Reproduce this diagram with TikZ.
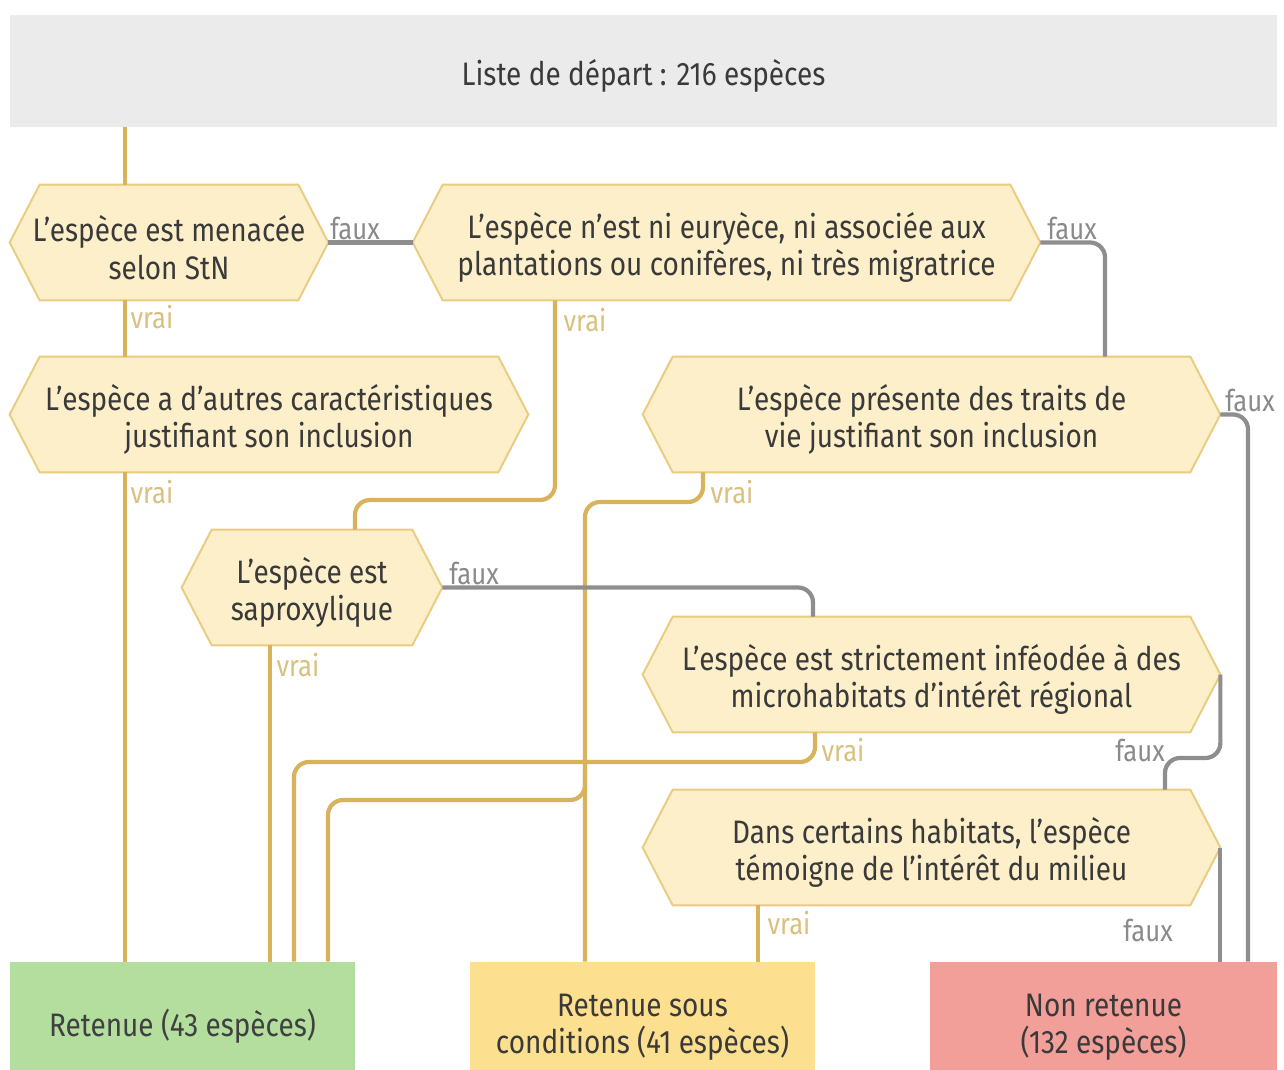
\documentclass[tikz,border=0pt]{standalone}
\usepackage{fontspec}
\setmainfont{Fira Sans}[FakeStretch=0.86]
\usetikzlibrary{calc,backgrounds}
\definecolor{goldln}{HTML}{D8B35C}
\definecolor{grayln}{HTML}{8E8E8E}
\definecolor{hexfillc}{HTML}{FDEFC9}
\definecolor{hexdrawc}{HTML}{EACB80}
\definecolor{topfill}{HTML}{EBEBEB}
\definecolor{greenfill}{HTML}{B3DE9E}
\definecolor{yellowfill}{HTML}{FDE08F}
\definecolor{redfill}{HTML}{F29E99}
\definecolor{txt}{HTML}{3A3A3A}
\definecolor{vraic}{HTML}{D9C07E}
\definecolor{fauxc}{HTML}{8A8A8A}
\tikzset{
  wh/.style 2 args={minimum width=#1*0.02cm, minimum height=#2*0.02cm},
  shapenode/.style={inner sep=0pt},
  textnode/.style={inner sep=0pt, align=center, text=txt, yshift=-2.8pt, font=\fontsize{18.5}{21.5}\selectfont},
  hexshape/.style={fill=hexfillc, draw=hexdrawc, line width=1.1pt, line join=miter},
  goldline/.style={draw=goldln, line width=2.4pt},
  grayline/.style={draw=grayln, line width=2.4pt},
  rc/.style={rounded corners=8.5pt},
  vraiL/.style={text=vraic, inner sep=0pt, font=\fontsize{17}{19}\selectfont},
  fauxL/.style={text=fauxc, inner sep=0pt, font=\fontsize{17}{19}\selectfont},
}
\begin{document}
\begin{tikzpicture}[x=0.02cm,y=-0.02cm]
\useasboundingbox (0,0) rectangle (1284,1070);
\clip (0,0) rectangle (1284,1070);

% top box
\node[shapenode, fill=topfill, wh={1267}{112}] (top) at (643.5,71) {};
\node[textnode] (topt) at (top.center) {Liste de départ : 216 espèces};

% decision nodes (shapes)
\node[shapenode, wh={318}{115}] (h1) at (169,242.5) {};
\node[shapenode, wh={627}{115}] (h2) at (726.5,242.5) {};
\node[shapenode, wh={518}{115}] (h3) at (269,414.5) {};
\node[shapenode, wh={577}{115}] (h4) at (931.5,414.5) {};
\node[shapenode, wh={260}{115}] (h5) at (312,587.5) {};
\node[shapenode, wh={577}{115}] (h6) at (931.5,674.5) {};
\node[shapenode, wh={577}{115}] (h7) at (931.5,847.5) {};

% outcome nodes
\node[shapenode, fill=greenfill, wh={345}{123}] (green) at (182.5,1023.5) {};
\node[shapenode, fill=yellowfill, wh={345}{123}] (yellow) at (642.5,1023.5) {};
\node[shapenode, fill=redfill, wh={347}{123}] (red) at (1103.5,1023.5) {};

\begin{scope}[on background layer]
\foreach \n in {h1,h2,h3,h4,h5,h6,h7}
  \filldraw[hexshape] (\n.west) -- ($(\n.north west)+(30,0)$) -- ($(\n.north east)+(-30,0)$) -- (\n.east)
    -- ($(\n.south east)+(-30,0)$) -- ($(\n.south west)+(30,0)$) -- cycle;
\end{scope}

% texts
\node[textnode] (h1t) at (h1.center) {L’espèce est menacée\\selon StN};
\node[textnode] (h2t) at (h2.center) {L’espèce n’est ni euryèce, ni associée aux\\plantations ou conifères, ni très migratrice};
\node[textnode] (h3t) at (h3.center) {L’espèce a d’autres caractéristiques\\justifiant son inclusion};
\node[textnode] (h4t) at (h4.center) {L’espèce présente des traits de\\vie justifiant son inclusion};
\node[textnode] (h5t) at (h5.center) {L’espèce est\\saproxylique};
\node[textnode] (h6t) at (h6.center) {L’espèce est strictement inféodée à des\\microhabitats d’intérêt régional};
\node[textnode] (h7t) at (h7.center) {Dans certains habitats, l’espèce\\témoigne de l’intérêt du milieu};
\node[textnode, text=black!75, yshift=1.5pt] (greent) at (green.center) {Retenue (43 espèces)};
\node[textnode, yshift=0.6pt] (yellowt) at (yellow.center) {Retenue sous\\conditions (41 espèces)};
\node[textnode, yshift=0.6pt] (redt) at (red.center) {Non retenue\\(132 espèces)};

% guide coordinates
\coordinate (xa) at (125,0);
\coordinate (xb) at (555,0);
\coordinate (xc) at (355,0);
\coordinate (xd) at (1105,0);
\coordinate (xe) at (703,0);
\coordinate (xf) at (585,0);
\coordinate (xg) at (328,0);
\coordinate (xh) at (813,0);
\coordinate (xi) at (270,0);
\coordinate (xj) at (815,0);
\coordinate (xk) at (294,0);
\coordinate (xl) at (1248,0);
\coordinate (xm) at (1165,0);
\coordinate (xn) at (758,0);
\coordinate (ya) at (0,500);
\coordinate (yb) at (0,502);
\coordinate (yc) at (0,800);
\coordinate (yc0) at (0,770);
\coordinate (yd) at (0,762);
\coordinate (ye) at (0,758);

\begin{scope}[on background layer]
% gold (vrai) connectors
\draw[goldline] (top.south -| xa) -- (h1.north -| xa);
\draw[goldline] (h1.south -| xa) -- (h3.north -| xa);
\draw[goldline] (h3.south -| xa) -- (green.north -| xa);
\draw[goldline, rc] (h2.south -| xb) -- (xb |- ya) -- (xc |- ya) -- (h5.north -| xc);
\draw[goldline, rc] (h4.south -| xe) -- (xe |- yb) -- (xf |- yb) -- (yellow.north -| xf);
\draw[goldline, rc] (xf |- yc0) -- (xf |- yc) -- (xg |- yc) -- (green.north -| xg);
\draw[goldline] (h5.south -| xi) -- (green.north -| xi);
\draw[goldline, rc] (h6.south -| xj) -- (xj |- yd) -- (xk |- yd) -- (green.north -| xk);
\draw[goldline] (h7.south -| xn) -- (yellow.north -| xn);
% gray (faux) connectors
\draw[grayline] (h1.east) -- (h2.west);
\draw[grayline, rc] (h2.east) -- (xd |- h2.east) -- (h4.north -| xd);
\draw[grayline, rc] (h5.east) -- (xh |- h5.east) -- (h6.north -| xh);
\draw[grayline, rc] (h4.east) -- (xl |- h4.east) -- (red.north -| xl);
\draw[grayline, rc] (h6.east) -- (h6.east |- ye) -- (xm |- ye) -- (h7.north -| xm);
\draw[grayline] (h7.east) -- (red.north -| h7.east);
\end{scope}

% labels
\node[fauxL] (f1) at (355,228) {faux};
\node[vraiL] (v1) at (152,317) {vrai};
\node[vraiL] (v2) at (585,320) {vrai};
\node[fauxL] (f2) at (1072,228) {faux};
\node[vraiL] (v3) at (152,492) {vrai};
\node[fauxL] (f4) at (1250,400) {faux};
\node[vraiL] (v4) at (732,492) {vrai};
\node[fauxL] (f5) at (474,573) {faux};
\node[vraiL] (v5) at (298,665) {vrai};
\node[vraiL] (v6) at (843,750) {vrai};
\node[fauxL] (f6) at (1140,750) {faux};
\node[vraiL] (v7) at (789,923) {vrai};
\node[fauxL] (f7) at (1148,930) {faux};
\end{tikzpicture}
\end{document}
